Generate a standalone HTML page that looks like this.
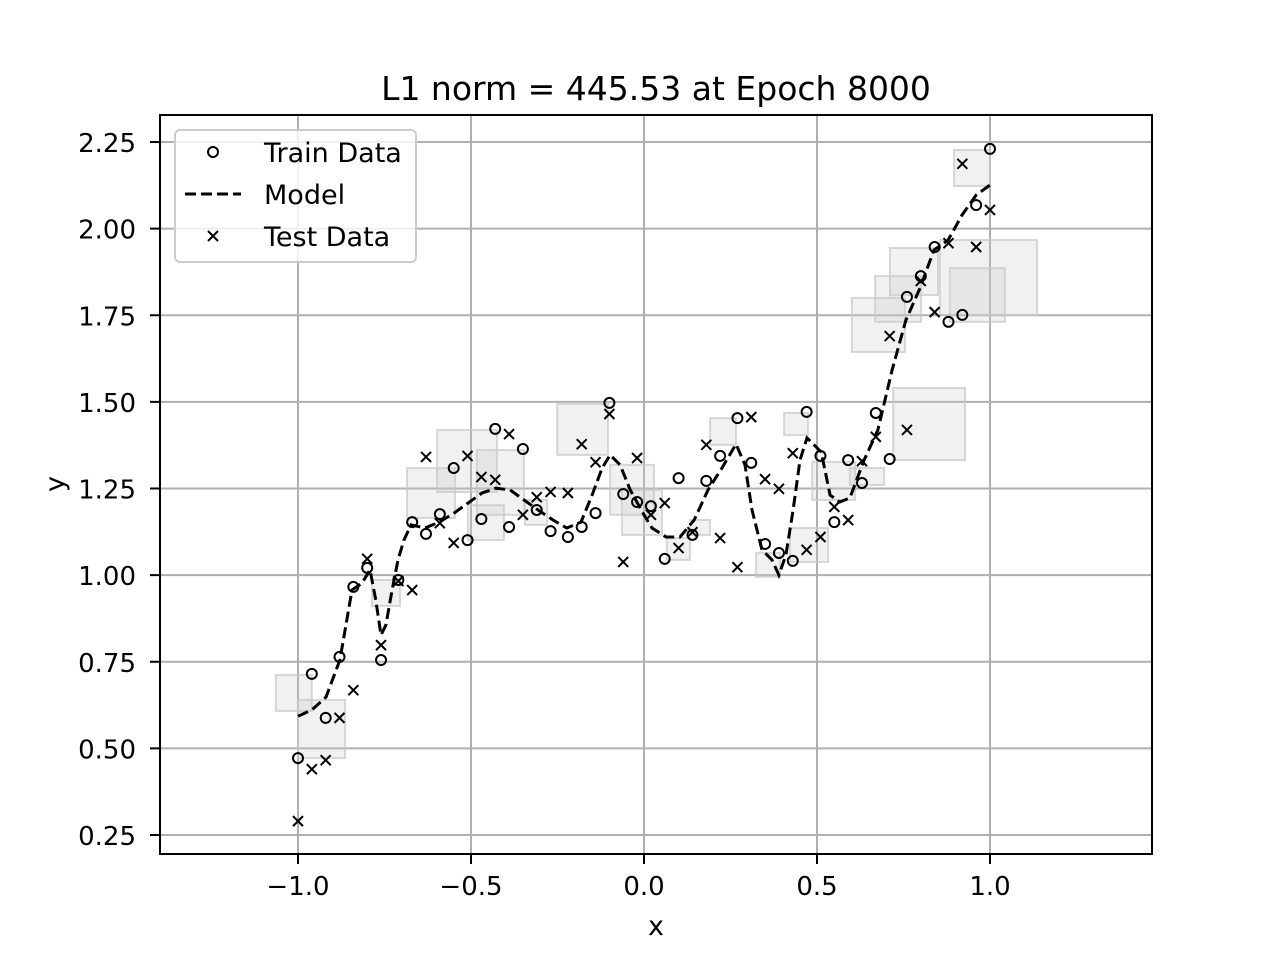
<!DOCTYPE html>
<html><head><meta charset="utf-8"><style>
html,body{margin:0;padding:0;background:#fff;}
svg text{font-family:"DejaVu Sans","Liberation Sans",sans-serif;fill:#000;}
</style></head><body>
<svg id="chart" width="1280" height="960" xmlns="http://www.w3.org/2000/svg">
<rect x="0" y="0" width="1280" height="960" fill="#fff"/>
<g id="grid"></g>
<g id="boxes"></g>
<g id="series"></g>
<rect x="160" y="115" width="992" height="739" fill="none" stroke="#000" stroke-width="2"/>
<g id="ticks"></g>
<text x="656" y="100" font-size="33" text-anchor="middle">L1 norm = 445.53 at Epoch 8000</text>
<text x="656" y="935" font-size="27" text-anchor="middle">x</text>
<text x="64" y="484" font-size="27" text-anchor="middle" transform="rotate(-90 64 484)">y</text>
<g>
<rect x="175" y="130" width="241" height="132" rx="5" fill="#fff" fill-opacity="0.8" stroke="#ccc" stroke-width="2"/>
<circle cx="213" cy="152" r="5" fill="none" stroke="#000" stroke-width="2"/>
<text x="264" y="162" font-size="27">Train Data</text>
<line x1="185" y1="194" x2="241" y2="194" stroke="#000" stroke-width="3" stroke-dasharray="11,5"/>
<text x="264" y="204" font-size="27">Model</text>
<path d="M208,231 L218,241 M218,231 L208,241" stroke="#000" stroke-width="2"/>
<text x="264" y="246" font-size="27">Test Data</text>
</g>
</svg>
<script>
const xTicks=[-1.0,-0.5,0.0,0.5,1.0];
const xTickLabels=["\u22121.0","\u22120.5","0.0","0.5","1.0"];
const yTicks=[0.25,0.5,0.75,1.0,1.25,1.5,1.75,2.0,2.25];
const yTickLabels=["0.25","0.50","0.75","1.00","1.25","1.50","1.75","2.00","2.25"];
const trainX=[-1,-0.96,-0.92,-0.88,-0.84,-0.8,-0.76,-0.71,-0.67,-0.63,-0.59,-0.55,-0.51,-0.47,-0.43,-0.39,-0.35,-0.31,-0.27,-0.22,-0.18,-0.14,-0.1,-0.06,-0.02,0.02,0.06,0.1,0.14,0.18,0.22,0.27,0.31,0.35,0.39,0.43,0.47,0.51,0.55,0.59,0.63,0.67,0.71,0.76,0.8,0.84,0.88,0.92,0.96,1.0];
const trainY=[0.472,0.715,0.588,0.764,0.966,1.021,0.755,0.986,1.153,1.119,1.176,1.309,1.101,1.162,1.422,1.139,1.364,1.188,1.127,1.110,1.139,1.179,1.497,1.234,1.211,1.199,1.047,1.280,1.116,1.272,1.344,1.453,1.324,1.090,1.064,1.041,1.471,1.344,1.153,1.332,1.266,1.468,1.335,1.803,1.863,1.947,1.731,1.751,2.068,2.230];
const testX=trainX.slice();
const testY=[0.290,0.440,0.466,0.588,0.668,1.047,0.798,0.983,0.957,1.341,1.150,1.093,1.344,1.283,1.275,1.407,1.174,1.225,1.240,1.237,1.378,1.326,1.465,1.038,1.338,1.174,1.208,1.078,1.124,1.376,1.107,1.023,1.456,1.277,1.249,1.352,1.073,1.110,1.197,1.159,1.329,1.399,1.690,1.419,1.849,1.759,1.958,2.187,1.947,2.054];
const modelX=[-1,-0.96,-0.919,-0.879,-0.844,-0.815,-0.792,-0.775,-0.760,-0.746,-0.728,-0.711,-0.694,-0.673,-0.633,-0.592,-0.549,-0.509,-0.468,-0.428,-0.387,-0.347,-0.306,-0.263,-0.223,-0.182,-0.150,-0.121,-0.098,-0.069,-0.040,0,0.023,0.064,0.104,0.145,0.185,0.225,0.266,0.292,0.312,0.341,0.370,0.390,0.410,0.431,0.451,0.471,0.512,0.538,0.566,0.595,0.636,0.676,0.717,0.757,0.798,0.838,0.879,0.919,0.960,1.0];
const modelY=[0.593,0.611,0.648,0.755,0.957,0.977,1.015,0.928,0.827,0.856,0.957,1.044,1.101,1.145,1.136,1.153,1.179,1.208,1.237,1.251,1.246,1.217,1.188,1.159,1.136,1.153,1.231,1.309,1.347,1.318,1.246,1.174,1.136,1.110,1.110,1.159,1.246,1.309,1.378,1.318,1.188,1.073,1.044,1.000,1.058,1.188,1.332,1.396,1.355,1.231,1.211,1.223,1.332,1.419,1.592,1.736,1.829,1.938,1.967,2.039,2.097,2.126];
const boxX0=[-1.064,-1.0,-0.685,-0.598,-0.483,-0.509,-0.251,-0.098,-0.064,0.066,0.133,0.191,0.405,0.324,0.422,0.486,0.595,0.601,0.668,0.711,0.855,0.884,0.720,0.896,-0.786,-0.344];
const boxX1=[-0.960,-0.864,-0.546,-0.425,-0.347,-0.405,-0.104,0.029,0.052,0.133,0.191,0.266,0.474,0.393,0.532,0.610,0.694,0.754,0.801,0.850,1.136,1.043,0.928,1.0,-0.705,-0.280];
const boxY0=[0.608,0.472,1.165,1.240,1.174,1.101,1.347,1.174,1.116,1.044,1.116,1.376,1.404,0.995,1.038,1.217,1.260,1.644,1.731,1.808,1.751,1.731,1.332,2.123,0.911,1.145];
const boxY1=[0.712,0.640,1.309,1.419,1.361,1.202,1.494,1.318,1.246,1.107,1.159,1.453,1.468,1.064,1.136,1.327,1.309,1.800,1.863,1.944,1.967,1.886,1.540,2.227,0.986,1.217];

const NS="http://www.w3.org/2000/svg";
const sx=v=>644+v*346;
const sy=v=>835-(v-0.25)*346.5;
function mk(tag,attrs,parent){const e=document.createElementNS(NS,tag);for(const k in attrs)e.setAttribute(k,attrs[k]);parent.appendChild(e);return e;}
const grid=document.getElementById('grid'),ticks=document.getElementById('ticks'),boxes=document.getElementById('boxes'),series=document.getElementById('series');
xTicks.forEach((t,i)=>{
  let g=mk('line',{x1:sx(t),x2:sx(t),y1:115,y2:854,stroke:'#b0b0b0','stroke-width':2},grid);
  
  
  let tk=mk('line',{x1:sx(t),x2:sx(t),y1:854,y2:864,stroke:'#000','stroke-width':2},ticks);
  
  
  let tx=mk('text',{x:sx(t),y:895,'font-size':26,'text-anchor':'middle'},ticks);tx.textContent=xTickLabels[i];
  
  
});
yTicks.forEach((t,i)=>{
  let g=mk('line',{x1:160,x2:1152,y1:sy(t),y2:sy(t),stroke:'#b0b0b0','stroke-width':2},grid);
  
  
  let tk=mk('line',{x1:150,x2:160,y1:sy(t),y2:sy(t),stroke:'#000','stroke-width':2},ticks);
  
  
  let tx=mk('text',{x:136,y:sy(t)+10,'font-size':26,'text-anchor':'end'},ticks);tx.textContent=yTickLabels[i];
  
  
});
boxX0.forEach((x0,i)=>{
  let r=mk('rect',{x:sx(x0),y:sy(boxY1[i]),width:sx(boxX1[i])-sx(x0),height:sy(boxY0[i])-sy(boxY1[i]),fill:'#c8c8c8','fill-opacity':0.25,stroke:'#c8c8c8','stroke-opacity':0.7,'stroke-width':2},boxes);
  
  
});
let d=modelX.map((x,i)=>(i?'L':'M')+sx(x).toFixed(1)+','+sy(modelY[i]).toFixed(1)).join(' ');
let ml=mk('path',{d:d,fill:'none',stroke:'#000','stroke-width':3,'stroke-dasharray':'11,5'},series);


trainX.forEach((x,i)=>{
  let c=mk('circle',{cx:sx(x),cy:sy(trainY[i]),r:5,fill:'none',stroke:'#000','stroke-width':2},series);
  
  
});
testX.forEach((x,i)=>{
  const X=sx(x),Y=sy(testY[i]);
  let p=mk('path',{d:`M${X-5},${Y-5} L${X+5},${Y+5} M${X+5},${Y-5} L${X-5},${Y+5}`,stroke:'#000','stroke-width':2},series);
  
  
});
</script>
</body></html>
